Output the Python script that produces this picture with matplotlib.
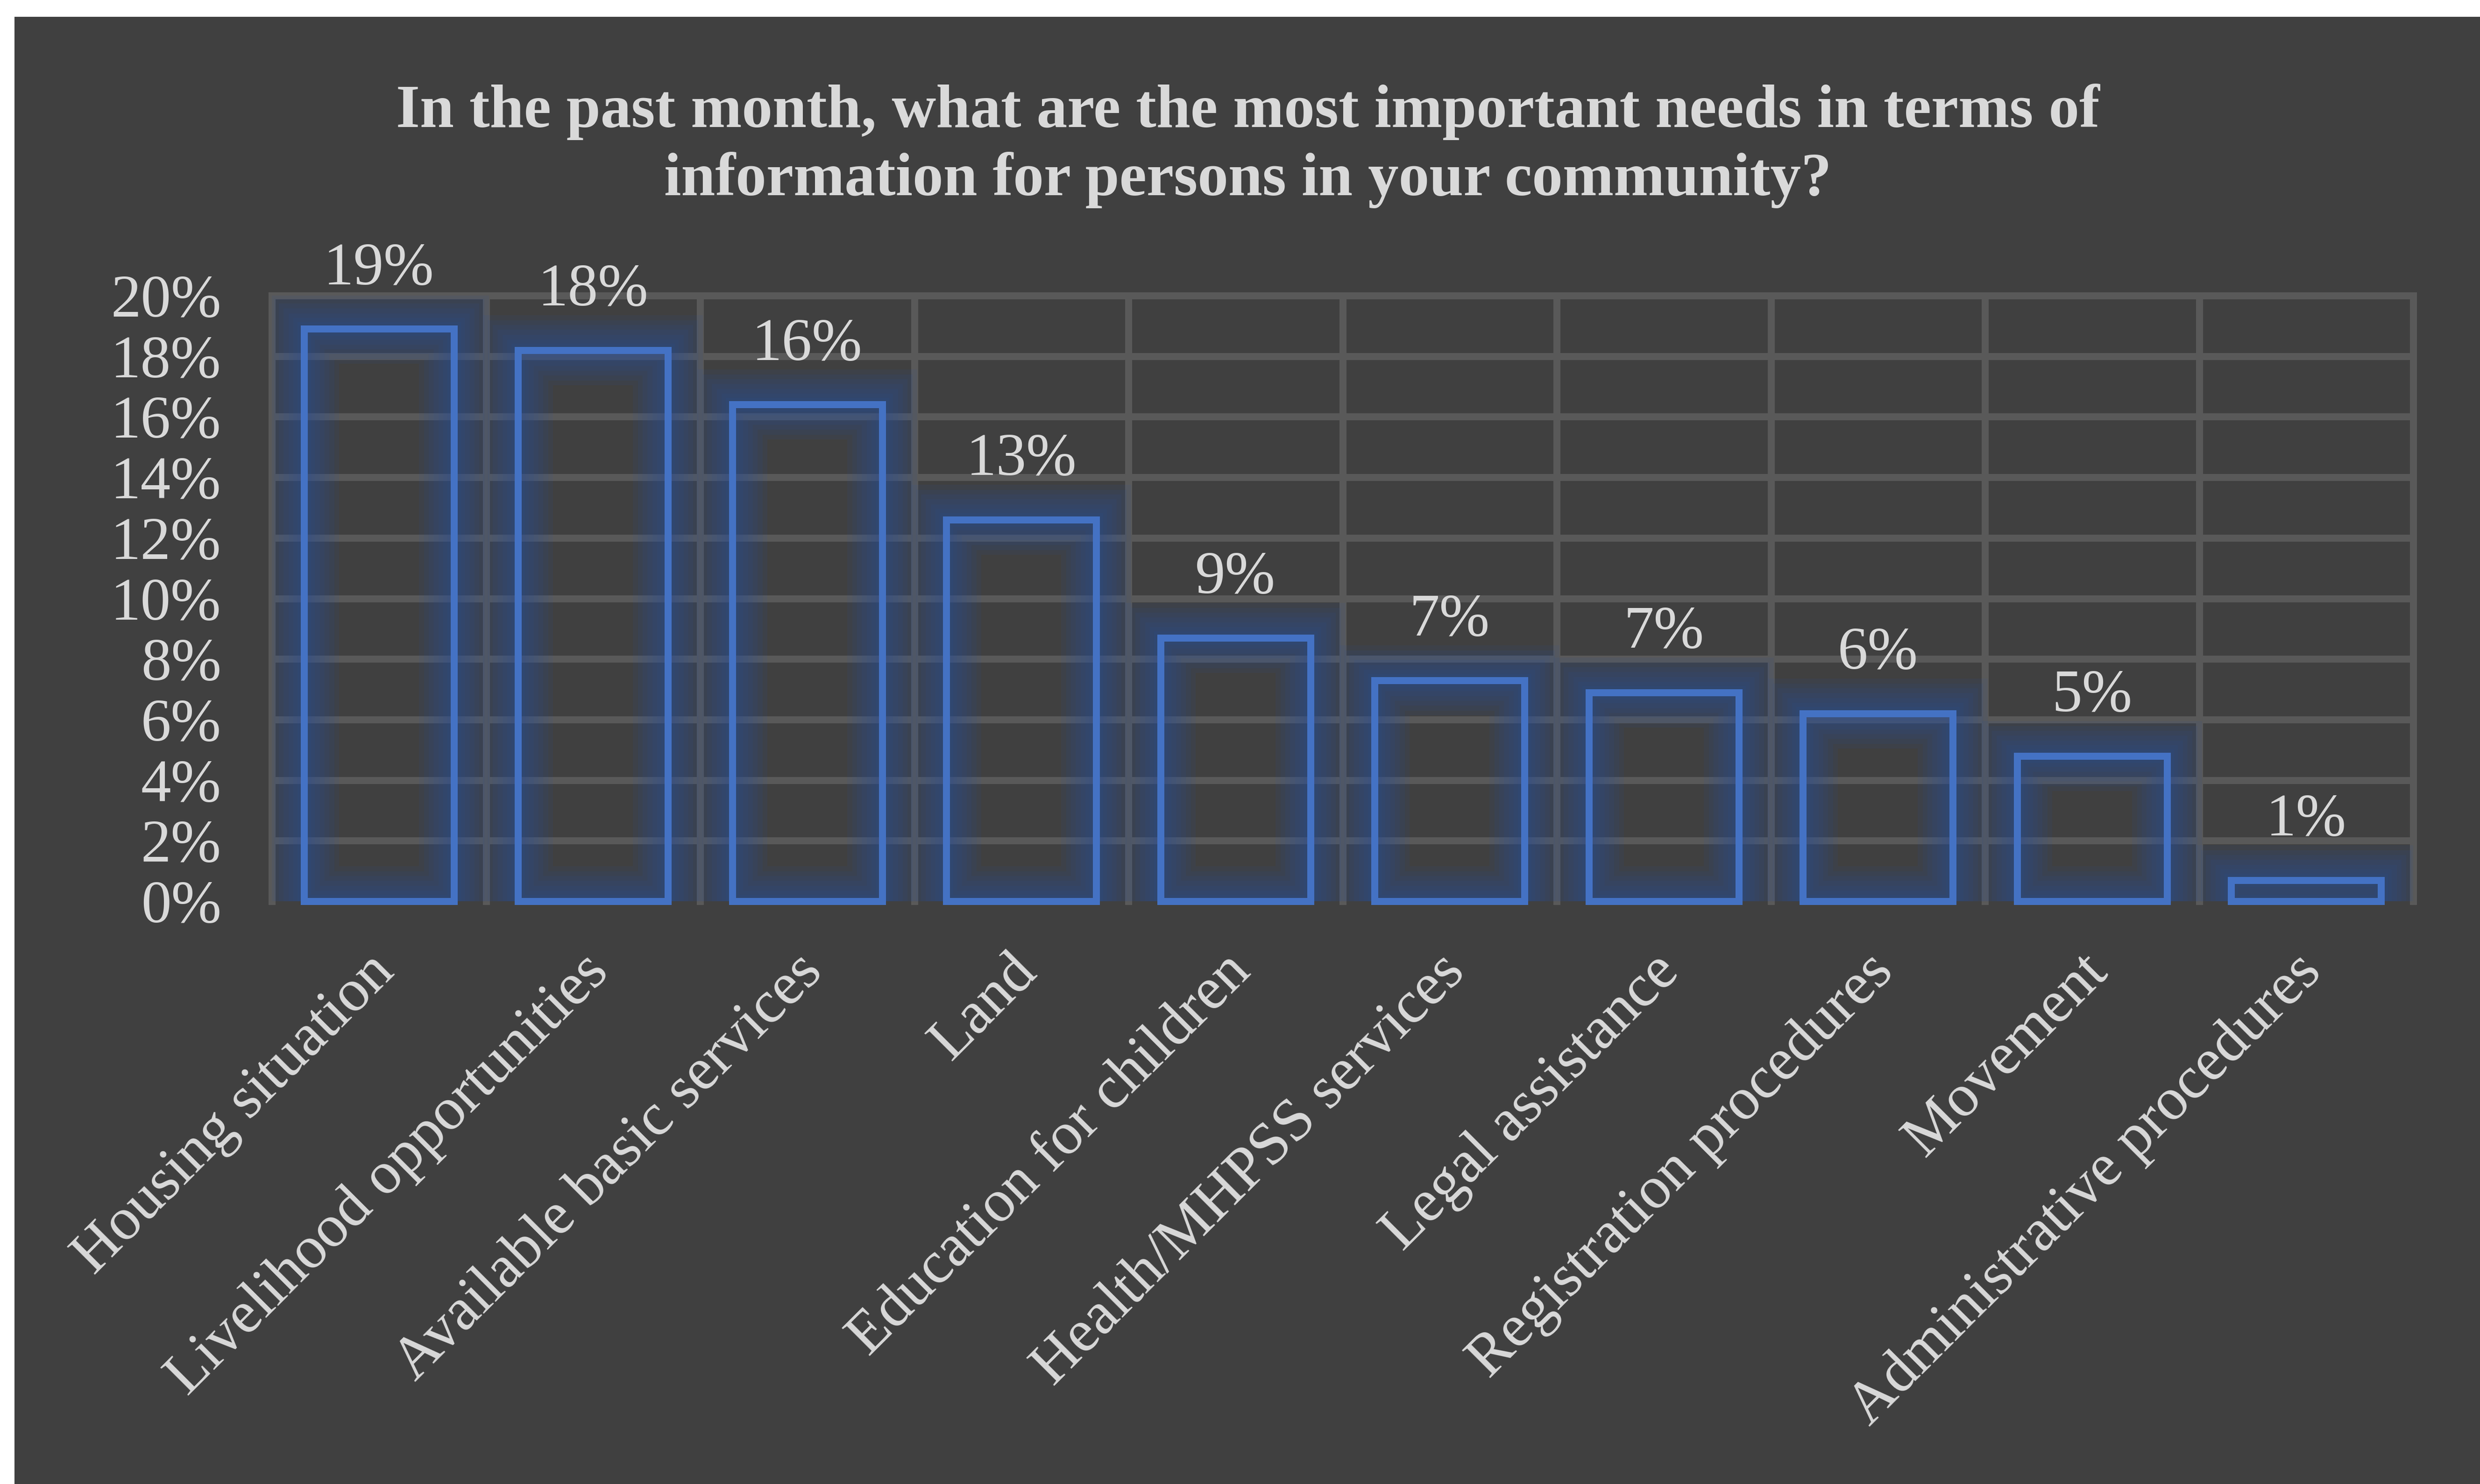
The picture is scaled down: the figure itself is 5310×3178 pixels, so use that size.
import numpy as np
import matplotlib
matplotlib.use('Agg')
import matplotlib.pyplot as plt
from matplotlib.patches import Rectangle
from matplotlib.transforms import ScaledTranslation

# survey data
categories = ['Housing situation', 'Livelihood opportunities', 'Available basic services',
              'Land', 'Education for children', 'Health/MHPSS services', 'Legal assistance',
              'Registration procedures', 'Movement', 'Administrative procedures']
shares = [18.9, 18.2, 16.4, 12.6, 8.7, 7.3, 6.9, 6.2, 4.8, 0.7]
y_ticks = [0, 2, 4, 6, 8, 10, 12, 14, 16, 18, 20]
title_lines = ['In the past month, what are the most important needs in terms of',
               'information for persons in your community?']

W, H = 5310, 3178
bg = '#404040'
grid_col = '#595959'
text_col = '#d9d9d9'
blue = '#4472C4'
glow = '#2850A0'

plt.rcParams['font.family'] = ['Liberation Serif', 'DejaVu Serif']

fig = plt.figure(figsize=(W / 300, H / 300), dpi=300)
fig.patch.set_facecolor('white')
# dark chart area, white strip on the left and top
fig.patches.append(Rectangle((31 / W, 0), 1, 1 - 36 / H, transform=fig.transFigure,
                             facecolor=bg, edgecolor='none', zorder=-10))

ax = fig.add_axes([582 / W, 1 - 1930 / H, (5167 - 582) / W, (1930 - 633) / H])
ax.set_facecolor('none')
for s in ax.spines.values():
    s.set_visible(False)

x = np.arange(len(categories))
vals = np.array(shares) / 100

ax.set_xlim(-0.5, len(categories) - 0.5)
ax.set_ylim(0, 0.20)

# gridlines
for yv in y_ticks[1:]:
    ax.axhline(yv / 100, color=grid_col, lw=3.6, zorder=1, clip_on=False)
for xv in np.arange(-0.5, len(categories), 1):
    ax.axvline(xv, color=grid_col, lw=3.6, zorder=1, clip_on=False)

# soft glow around the bar outlines
for lw in [36, 31, 26, 21, 16, 11, 7]:
    ax.bar(x, vals, width=0.7, facecolor='none', edgecolor=glow, linewidth=lw,
           alpha=0.1, zorder=2)
ax.bar(x, vals, width=0.7, facecolor='none', edgecolor=blue, linewidth=3.6,
       zorder=3, clip_on=False)

for xi, v in zip(x, vals):
    ax.annotate('{:.0f}%'.format(v * 100), (xi, v), xytext=(0, 23), textcoords='offset points',
                ha='center', va='baseline', fontsize=31, color=text_col)

ax.set_yticks([t / 100 for t in y_ticks])
ax.set_yticklabels(['{}%'.format(t) for t in y_ticks], fontsize=31, color=text_col)
ax.tick_params(axis='y', length=0, pad=26)

ax.set_xticks(x)
ax.set_xticklabels(categories, rotation=45, ha='right', va='top', rotation_mode='anchor',
                   fontsize=31, color=text_col)
ax.tick_params(axis='x', length=0, pad=22)
# nudge the slanted labels a little to the left
shift = ScaledTranslation(-27 / 300, 0, fig.dpi_scale_trans)
for lbl in ax.get_xticklabels():
    lbl.set_transform(lbl.get_transform() + shift)

fig.text(2672 / W, 1 - 272 / H, title_lines[0], ha='center', va='baseline',
         fontsize=31.5, fontweight='bold', color=text_col)
fig.text(2672 / W, 1 - 418 / H, title_lines[1], ha='center', va='baseline',
         fontsize=31.5, fontweight='bold', color=text_col)

fig.savefig('out.png', dpi=300, facecolor=fig.get_facecolor())
